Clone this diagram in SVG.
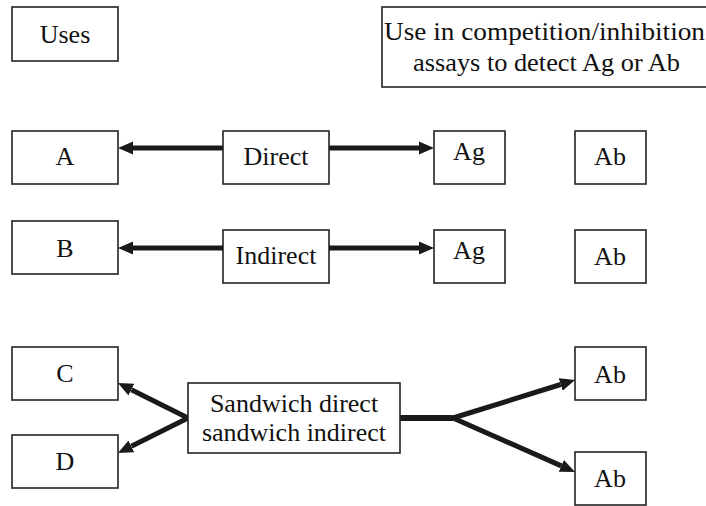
<svg xmlns="http://www.w3.org/2000/svg" width="706" height="506" viewBox="0 0 706 506">
<defs>
<style>
.box{fill:#fff;stroke:#222;stroke-width:1.6}
.t{text-anchor:middle}
.c{fill:none;stroke:#1a1a1a;stroke-width:5;stroke-linejoin:round}
</style>
<marker id="ah" markerUnits="userSpaceOnUse" markerWidth="16" markerHeight="14" refX="0" refY="6.5" orient="auto" viewBox="0 0 16 13">
<path d="M0,0 L15,6.5 L0,13 z" fill="#1a1a1a"/>
</marker>
</defs>
<rect width="706" height="506" fill="#fff"/>
<g id="connectors">
<path class="c" d="M223,148 L133,148" marker-end="url(#ah)"/>
<path class="c" d="M329,148 L419,148" marker-end="url(#ah)"/>
<path class="c" d="M223,248 L133,248" marker-end="url(#ah)"/>
<path class="c" d="M329,248 L419,248" marker-end="url(#ah)"/>
<path class="c" d="M188,418 L131.4,389.7" marker-end="url(#ah)"/>
<path class="c" d="M188,418 L131.4,446.3" marker-end="url(#ah)"/>
<path class="c" style="stroke-width:6" d="M400,418 L453,418"/>
<path class="c" d="M453,418 L560.7,384.5" marker-end="url(#ah)"/>
<path class="c" d="M453,418 L561.3,465.9" marker-end="url(#ah)"/>
</g>
<g font-family="Liberation Serif, DejaVu Serif, serif" font-size="26" fill="#111">
<g id="uses"><rect class="box" x="12" y="7" width="106" height="54"/><text class="t" x="65" y="43">Uses</text></g>
<g id="competition"><rect class="box" x="382" y="7" width="340" height="80"/><text x="384" y="40" textLength="321" lengthAdjust="spacingAndGlyphs">Use in competition/inhibition</text><text x="413" y="71" textLength="267" lengthAdjust="spacingAndGlyphs">assays to detect Ag or Ab</text></g>
<g id="A"><rect class="box" x="12" y="131" width="106" height="53"/><text class="t" x="65" y="165">A</text></g>
<g id="direct"><rect class="box" x="223" y="131" width="106" height="53"/><text class="t" x="276" y="165">Direct</text></g>
<g id="ag1"><rect class="box" x="434" y="131" width="71" height="53"/><text class="t" x="469" y="160">Ag</text></g>
<g id="ab1"><rect class="box" x="575" y="131" width="71" height="53"/><text class="t" x="610" y="165">Ab</text></g>
<g id="B"><rect class="box" x="12" y="221" width="106" height="53"/><text class="t" x="65" y="257">B</text></g>
<g id="indirect"><rect class="box" x="223" y="230" width="106" height="53"/><text class="t" x="276" y="264">Indirect</text></g>
<g id="ag2"><rect class="box" x="434" y="230" width="71" height="53"/><text class="t" x="469" y="259">Ag</text></g>
<g id="ab2"><rect class="box" x="575" y="230" width="71" height="53"/><text class="t" x="610" y="265">Ab</text></g>
<g id="C"><rect class="box" x="12" y="347" width="106" height="53"/><text class="t" x="65" y="382">C</text></g>
<g id="D"><rect class="box" x="12" y="435" width="106" height="53"/><text class="t" x="65" y="470">D</text></g>
<g id="sandwich"><rect class="box" x="188" y="383" width="212" height="70"/><text class="t" x="294" y="412">Sandwich direct</text><text class="t" x="294" y="441">sandwich indirect</text></g>
<g id="ab3"><rect class="box" x="575" y="347" width="71" height="53"/><text class="t" x="610" y="383">Ab</text></g>
<g id="ab4"><rect class="box" x="575" y="452" width="71" height="53"/><text class="t" x="610" y="487">Ab</text></g>
</g>
</svg>
